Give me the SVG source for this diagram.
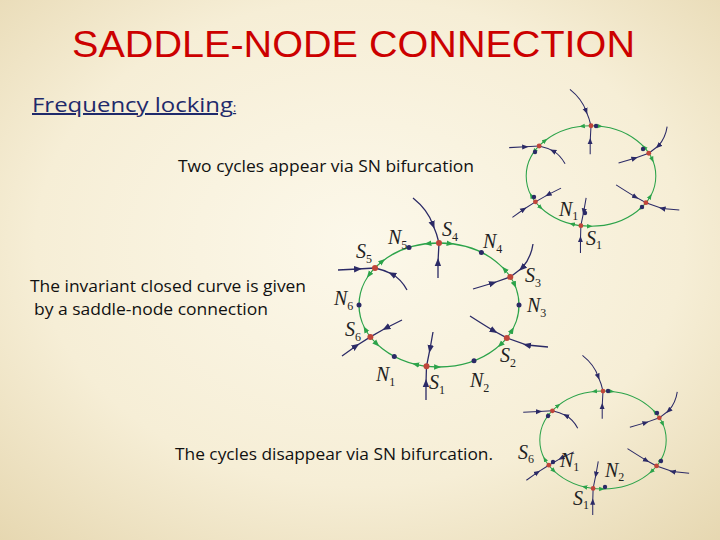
<svg xmlns="http://www.w3.org/2000/svg" xmlns:xlink="http://www.w3.org/1999/xlink" width="720" height="540" viewBox="0 0 720 540">
<defs>
<radialGradient id="bg" cx="0.5" cy="0.45" r="0.75">
<stop offset="0" stop-color="#fcf8ea"/><stop offset="0.6" stop-color="#f6eed6"/><stop offset="1" stop-color="#e6d7b0"/>
</radialGradient>
<marker id="arN" viewBox="0 0 10 10" refX="5" refY="5" markerWidth="8" markerHeight="8" markerUnits="userSpaceOnUse" orient="auto"><path d="M0,1 L10,5 L0,9 Z" fill="#2b2a66"/></marker>
<marker id="arG" viewBox="0 0 10 10" refX="5" refY="5" markerWidth="7" markerHeight="7" markerUnits="userSpaceOnUse" orient="auto"><path d="M0,1 L10,5 L0,9 Z" fill="#2ca34a"/></marker>
<style>
.sep{fill:none;stroke:#2b2a66;stroke-width:1.3;marker-mid:url(#arN)}
.ga{fill:none;stroke:none;marker-mid:url(#arG)}
.cyc{fill:none;stroke:#2ca34a;stroke-width:1.3}
.sd{fill:#c0453a}
.nd{fill:#2b2a66}
.lb{font-family:"Liberation Serif",serif;font-style:italic;font-size:20px;fill:#222}
.sb{font-size:12px;font-style:normal}
.tx{font-family:"Open Sans","DejaVu Sans",sans-serif;font-size:16px;fill:#111}
</style>
<g id="phase">
<ellipse class="cyc" cx="439" cy="305" rx="80" ry="62"/>
<path class="ga" d="M439,243 A80,62 0 0 0 427.9,243.6 A80,62 0 0 0 409,247.5"/>
<path class="ga" d="M439,243 A80,62 0 0 1 450.1,243.6 A80,62 0 0 1 481.4,252.4"/>
<path class="ga" d="M375,268 A80,62 0 0 1 382.4,261.2 A80,62 0 0 1 409,247.5"/>
<path class="ga" d="M375,268 A80,62 0 0 0 369,274.9 A80,62 0 0 0 359,305"/>
<path class="ga" d="M510.3,276.9 A80,62 0 0 0 504.5,269.4 A80,62 0 0 0 481.4,252.4"/>
<path class="ga" d="M510.3,276.9 A80,62 0 0 1 514.7,284.8 A80,62 0 0 1 519,305"/>
<path class="ga" d="M506.8,337.9 A80,62 0 0 0 512.1,330.2 A80,62 0 0 0 519,305"/>
<path class="ga" d="M506.8,337.9 A80,62 0 0 1 500.3,344.9 A80,62 0 0 1 474,360.7"/>
<path class="ga" d="M426.5,366.3 A80,62 0 0 0 437.6,367 A80,62 0 0 0 474,360.7"/>
<path class="ga" d="M426.5,366.3 A80,62 0 0 1 415.6,364.3 A80,62 0 0 1 394.3,356.4"/>
<path class="ga" d="M370.4,336.9 A80,62 0 0 0 376.8,344 A80,62 0 0 0 394.3,356.4"/>
<path class="ga" d="M370.4,336.9 A80,62 0 0 1 365.3,329.2 A80,62 0 0 1 359,305"/>
<path class="sep" d="M413,198 Q428,210 433,225 Q437,234 439,243"/>
<path class="sep" d="M438,278 L438,262 L439,243"/>
<path class="sep" d="M338,270 L358,269 L375,268"/>
<path class="sep" d="M407,290 Q401,279 392,274 Q384,270 375,268"/>
<path class="sep" d="M533,244 Q531,258 522,268 L510.3,276.9"/>
<path class="sep" d="M473,289 L493,283 L510.3,276.9"/>
<path class="sep" d="M470,316 Q484,325 494,331 L506.8,337.9"/>
<path class="sep" d="M548,347 L527,345 L506.8,337.9"/>
<path class="sep" d="M402,320 L386,328 L370.4,336.9"/>
<path class="sep" d="M342,356 L356,346 L370.4,336.9"/>
<path class="sep" d="M433,332 L430,349 L426.5,366.3"/>
<path class="sep" d="M426,400 L426,383 L426.5,366.3"/>
<g class="sd"><circle cx="439" cy="243" r="3"/><circle cx="375" cy="268" r="3"/><circle cx="510.3" cy="276.9" r="3"/><circle cx="506.8" cy="337.9" r="3"/><circle cx="370.4" cy="336.9" r="3"/><circle cx="426.5" cy="366.3" r="3"/></g>
</g>
</defs>
<rect width="720" height="540" fill="url(#bg)"/>
<text x="72" y="57" textLength="563" lengthAdjust="spacingAndGlyphs" font-family="Liberation Sans,Arial,sans-serif" font-size="37" fill="#cc0000">SADDLE-NODE CONNECTION</text>
<text x="32" y="112" font-family="Open Sans,DejaVu Sans,sans-serif" font-size="20" fill="#1f2a6b" text-decoration="underline"><tspan textLength="201" lengthAdjust="spacingAndGlyphs">Frequency locking</tspan><tspan font-size="12" text-decoration="none">:</tspan></text>
<text class="tx" x="178" y="172" textLength="296" lengthAdjust="spacingAndGlyphs">Two cycles appear via SN bifurcation</text>
<text class="tx" x="30" y="292" textLength="276" lengthAdjust="spacingAndGlyphs">The invariant closed curve is given</text>
<text class="tx" x="34" y="315" textLength="234" lengthAdjust="spacingAndGlyphs">by a saddle-node connection</text>
<text class="tx" x="175" y="460" textLength="318" lengthAdjust="spacingAndGlyphs">The cycles disappear via SN bifurcation.</text>

<g id="middle">
<use xlink:href="#phase"/>
<g class="nd"><circle cx="409" cy="247.5" r="2.5"/><circle cx="481.4" cy="252.4" r="2.5"/><circle cx="519" cy="305" r="2.5"/><circle cx="474" cy="360.7" r="2.5"/><circle cx="394.3" cy="356.4" r="2.5"/><circle cx="359" cy="305" r="2.5"/></g>
<text class="lb" x="388" y="244">N<tspan class="sb" dy="5">5</tspan></text>
<text class="lb" x="442" y="236">S<tspan class="sb" dy="5">4</tspan></text>
<text class="lb" x="483" y="248">N<tspan class="sb" dy="5">4</tspan></text>
<text class="lb" x="356" y="258">S<tspan class="sb" dy="5">5</tspan></text>
<text class="lb" x="525" y="282">S<tspan class="sb" dy="5">3</tspan></text>
<text class="lb" x="334" y="305">N<tspan class="sb" dy="5">6</tspan></text>
<text class="lb" x="527" y="312">N<tspan class="sb" dy="5">3</tspan></text>
<text class="lb" x="345" y="336">S<tspan class="sb" dy="5">6</tspan></text>
<text class="lb" x="500" y="362">S<tspan class="sb" dy="5">2</tspan></text>
<text class="lb" x="376" y="381">N<tspan class="sb" dy="5">1</tspan></text>
<text class="lb" x="429" y="389">S<tspan class="sb" dy="5">1</tspan></text>
<text class="lb" x="470" y="387">N<tspan class="sb" dy="5">2</tspan></text>
</g>

<g id="top-right">
<use xlink:href="#phase" transform="translate(591,176) scale(0.81) translate(-439,-305)"/>
<g class="nd"><circle cx="596" cy="126" r="2.2"/><circle cx="535" cy="152" r="2.2"/><circle cx="643" cy="149" r="2.2"/><circle cx="642" cy="207" r="2.2"/><circle cx="534" cy="197" r="2.2"/><circle cx="585" cy="213" r="2.2"/></g>
<text class="lb" x="559" y="216" font-size="18">N<tspan class="sb" dy="4">1</tspan></text>
<text class="lb" x="586" y="245" font-size="18">S<tspan class="sb" dy="4">1</tspan></text>
</g>

<g id="bottom-right">
<use xlink:href="#phase" transform="translate(603,440) scale(0.79) translate(-439,-305)"/>
<g class="nd"><circle cx="608" cy="391" r="2.2"/><circle cx="548" cy="416" r="2.2"/><circle cx="657" cy="413" r="2.2"/><circle cx="661" cy="461" r="2.2"/><circle cx="553" cy="462" r="2.2"/><circle cx="605" cy="487" r="2.2"/></g>
<text class="lb" x="518" y="459" font-size="18">S<tspan class="sb" dy="4">6</tspan></text>
<text class="lb" x="560" y="467" font-size="18">N<tspan class="sb" dy="4">1</tspan></text>
<text class="lb" x="605" y="477" font-size="18">N<tspan class="sb" dy="4">2</tspan></text>
<text class="lb" x="573" y="505" font-size="18">S<tspan class="sb" dy="4">1</tspan></text>
</g>
</svg>
